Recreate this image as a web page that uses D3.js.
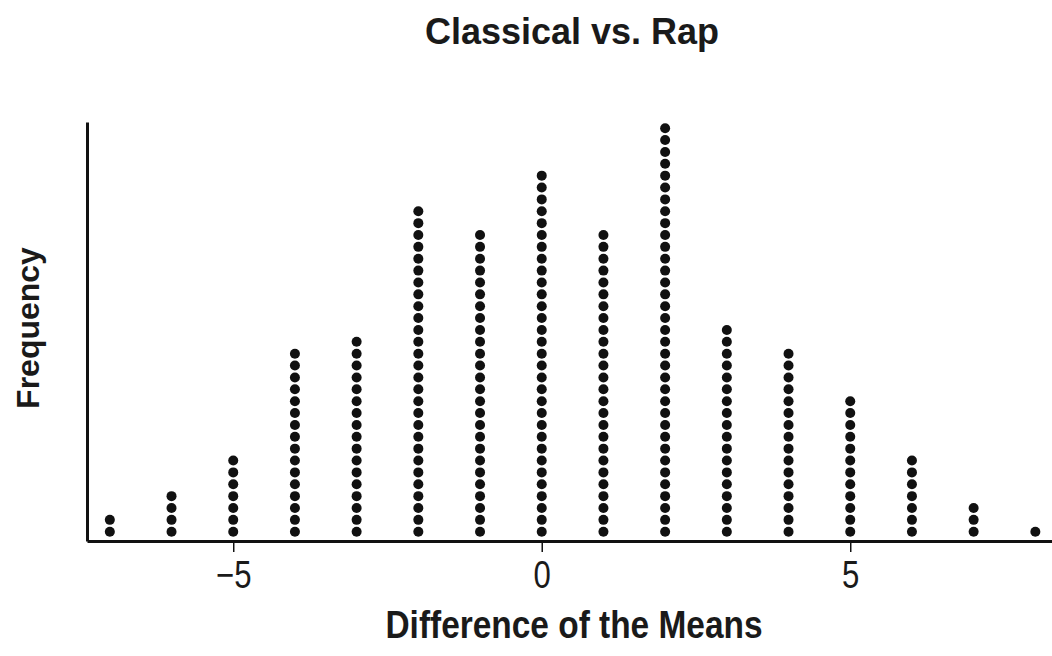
<!DOCTYPE html>
<html>
<head>
<meta charset="utf-8">
<script src="https://cdn.jsdelivr.net/npm/d3@7"></script>
<style>
  body { margin: 0; background: #fff; }
  text { font-family: "Liberation Sans", Arial, sans-serif; fill: #1a1a1a; }
</style>
</head>
<body>
<div id="chart"></div>
<script>
// Difference of the means (x values) and number of dots stacked at each
const diffs  = [-7, -6, -5, -4, -3, -2, -1, 0, 1, 2, 3, 4, 5, 6, 7, 8];
const counts = [ 2,  4,  7, 16, 17, 28, 26, 31, 26, 35, 18, 16, 12, 7, 3, 1];
const xTicks = [-5, 0, 5];

const width = 1052, height = 656;
const margin = { top: 122, right: 0, bottom: 115, left: 87 };

const svg = d3.select("#chart")
    .append("svg")
    .attr("width", width)
    .attr("height", height);

// x scale: one unit ~ 61.7px, 0 sits at x=542
const xScale = d3.scaleLinear()
    .domain([-7.37, 8.27])
    .range([margin.left, width - margin.right]);

// y scale in "dot slots"
const yScale = d3.scaleLinear()
    .domain([0, 35.3])
    .range([height - margin.bottom, margin.top]);

// expand counts into one record per dot
const dots = [];
diffs.forEach((d, i) => {
    for (let k = 0; k < counts[i]; k++) dots.push({ x: d, k: k });
});

svg.append("g")
    .selectAll("circle")
    .data(dots)
    .enter().append("circle")
    .attr("cx", d => xScale(d.x))
    .attr("cy", d => yScale(d.k + 0.78))
    .attr("r", 5)
    .attr("fill", "#111");

// x axis
const xAxis = svg.append("g")
    .attr("transform", `translate(0, ${height - margin.bottom})`)
    .call(d3.axisBottom(xScale).tickValues(xTicks).tickSize(11).tickSizeOuter(0)
        .tickFormat(d => d < 0 ? "\u2212" + Math.abs(d) : d));
xAxis.select(".domain").attr("stroke", "#111").attr("stroke-width", 3);
xAxis.selectAll(".tick line").attr("stroke", "#111").attr("stroke-width", 1.5);
xAxis.selectAll(".tick text")
    .attr("y", 20)
    .attr("dy", "0.71em")
    .attr("transform", "scale(0.82,1)")
    .style("font-size", "38px")
    .style("font-family", "\"Liberation Sans\", Arial, sans-serif")
    .attr("fill", "#1a1a1a");

// y axis (no ticks)
const yAxis = svg.append("g")
    .attr("transform", `translate(${margin.left}, 0)`)
    .call(d3.axisLeft(yScale).tickValues([]).tickSizeOuter(0));
yAxis.select(".domain").attr("stroke", "#111").attr("stroke-width", 3);

// title and axis labels
svg.append("text")
    .attr("x", 572).attr("y", 44)
    .attr("text-anchor", "middle")
    .style("font-size", "36px").style("font-weight", "bold")
    .text("Classical vs. Rap");

svg.append("text")
    .attr("transform", "translate(574, 638) scale(0.88,1)")
    .attr("text-anchor", "middle")
    .style("font-size", "38px").style("font-weight", "bold")
    .text("Difference of the Means");

svg.append("text")
    .attr("transform", "translate(39, 328) rotate(-90)")
    .attr("text-anchor", "middle")
    .style("font-size", "32px").style("font-weight", "bold")
    .text("Frequency");
</script>
</body>
</html>
